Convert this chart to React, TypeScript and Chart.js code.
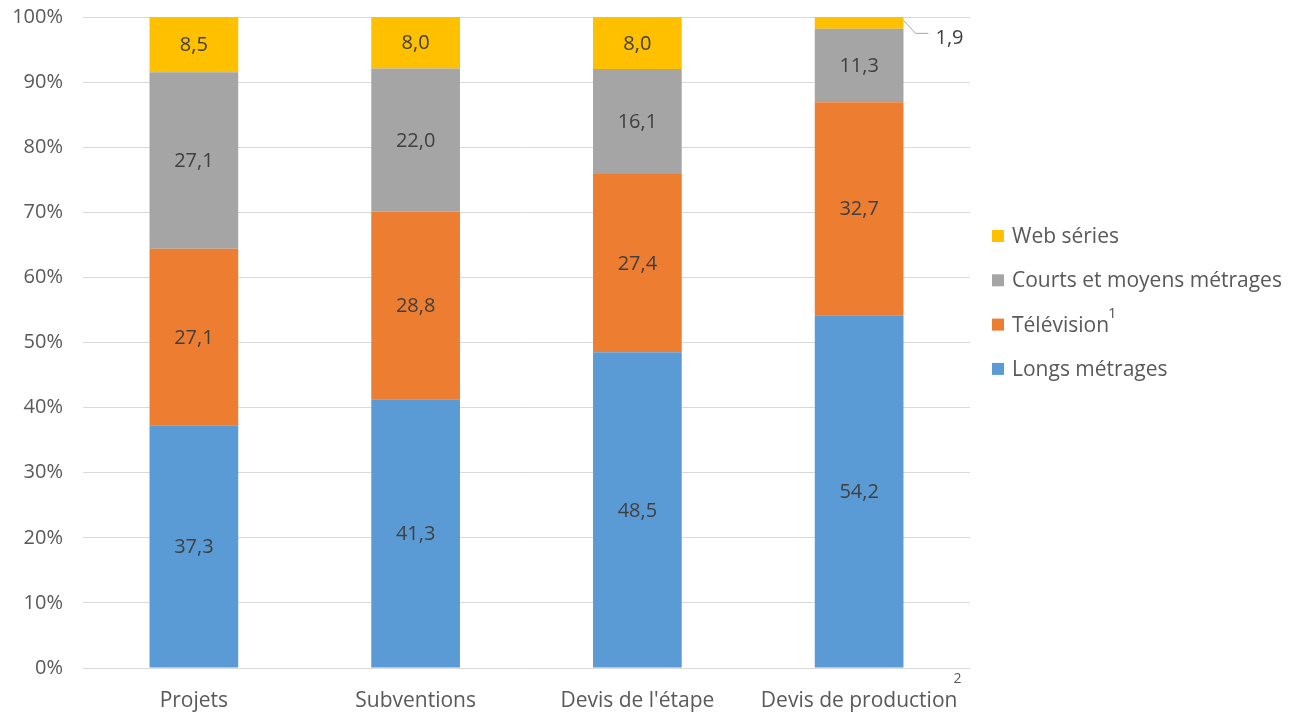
import React, { useEffect, useRef } from "react";
import { Chart, registerables } from "chart.js";

Chart.register(...registerables);

const categories = ["Projets", "Subventions", "Devis de l'étape", "Devis de production"];
const categorySup = ["", "", "", "2"];
const longsMetrages = [37.3, 41.3, 48.5, 54.2];
const television = [27.1, 28.8, 27.4, 32.7];
const courtsMoyens = [27.1, 22.0, 16.1, 11.3];
const webSeries = [8.5, 8.0, 8.0, 1.9];
const seriesNames = ["Longs métrages", "Télévision", "Courts et moyens métrages", "Web séries"];
const seriesSup = ["", "1", "", ""];
const colors = ["#5B9BD5", "#ED7D31", "#A5A5A5", "#FFC000"];
const yTicks = [0, 10, 20, 30, 40, 50, 60, 70, 80, 90, 100];

const FONT = "'Open Sans', 'Noto Sans', sans-serif";
const TEXT = "#595959";

export default function App() {
  const ref = useRef<HTMLCanvasElement>(null);
  useEffect(() => {
    const canvas = ref.current!;
    const labelsPlugin = {
      id: "labels",
      afterDatasetsDraw(chart: any) {
        const ctx = chart.ctx;
        ctx.save();
        ctx.font = `20px ${FONT}`;
        ctx.fillStyle = "#404040";
        ctx.textAlign = "center";
        ctx.textBaseline = "middle";
        chart.data.datasets.forEach((ds: any, di: number) => {
          const meta = chart.getDatasetMeta(di);
          meta.data.forEach((bar: any, i: number) => {
            const v = ds.data[i];
            const txt = v.toFixed(1).replace(".", ",");
            const top = Math.min(bar.y, bar.base);
            const bottom = Math.max(bar.y, bar.base);
            if (bottom - top < 20) {
              const rx = bar.x + bar.width / 2;
              ctx.strokeStyle = "#A6A6A6";
              ctx.lineWidth = 1;
              ctx.beginPath();
              ctx.moveTo(rx, top + 4);
              ctx.lineTo(rx + 12, top + 17);
              ctx.lineTo(rx + 25, top + 17);
              ctx.stroke();
              ctx.textAlign = "left";
              ctx.fillText(txt, rx + 32, top + 22);
              ctx.textAlign = "center";
            } else {
              ctx.fillText(txt, bar.x, (top + bottom) / 2 + 1);
            }
          });
        });
        const xs = chart.scales.x;
        ctx.font = `21px ${FONT}`;
        categories.forEach((c, i) => {
          if (!categorySup[i]) return;
          const w = ctx.measureText(c).width;
          const x = xs.getPixelForValue(i) + w / 2;
          ctx.font = `14px ${FONT}`;
          ctx.fillStyle = TEXT;
          ctx.textAlign = "left";
          ctx.fillText(categorySup[i], x - 4, 679);
          ctx.font = `21px ${FONT}`;
        });
        const order = [3, 2, 1, 0];
        order.forEach((si, k) => {
          const y = 236 + k * 44.3;
          ctx.fillStyle = colors[si];
          ctx.fillRect(992, y - 6, 12, 12);
          ctx.font = `21px ${FONT}`;
          ctx.fillStyle = TEXT;
          ctx.textAlign = "left";
          ctx.fillText(seriesNames[si], 1012, y + 1);
          if (seriesSup[si]) {
            const w = ctx.measureText(seriesNames[si]).width;
            ctx.font = `15px ${FONT}`;
            ctx.fillText(seriesSup[si], 1012 + w - 1, y - 11);
          }
        });
        ctx.restore();
      },
    };
    const chart = new Chart(canvas, {
      type: "bar",
      data: {
        labels: categories,
        datasets: [longsMetrages, television, courtsMoyens, webSeries].map((d, i) => ({
          label: seriesNames[i],
          data: d,
          backgroundColor: colors[i],
          borderWidth: 0,
          categoryPercentage: 1,
          barPercentage: 0.4,
        })),
      },
      options: {
        animation: false,
        responsive: false,
        maintainAspectRatio: false,
        layout: { padding: { left: 0, right: 322, top: 17, bottom: 0 } },
        plugins: { legend: { display: false }, tooltip: { enabled: false } },
        scales: {
          x: {
            stacked: true,
            grid: { display: false, drawTicks: false },
            border: { display: false },
            ticks: { color: TEXT, font: { family: FONT, size: 21 }, padding: 20, maxRotation: 0 },
            afterFit: (s: any) => { s.height = 46; s.paddingLeft = 0; s.paddingRight = 0; },
          },
          y: {
            stacked: true,
            min: 0,
            max: 100,
            afterBuildTicks: (s: any) => { s.ticks = yTicks.map((v) => ({ value: v })); },
            grid: { color: "#D9D9D9", lineWidth: 1, drawTicks: false },
            border: { display: false },
            ticks: {
              color: TEXT,
              font: { family: FONT, size: 20 },
              padding: 20,
              callback: (v: any) => v + "%",
            },
            afterFit: (s: any) => { s.width = 83; s.paddingTop = 0; s.paddingBottom = 0; },
          },
        },
      },
      plugins: [labelsPlugin],
    });
    return () => chart.destroy();
  }, []);
  return (
    <div style={{ position: "fixed", left: 0, top: 0, width: 1292, height: 714, background: "#fff" }}>
      <canvas ref={ref} width={1292} height={714} style={{ width: 1292, height: 714 }} />
    </div>
  );
}
